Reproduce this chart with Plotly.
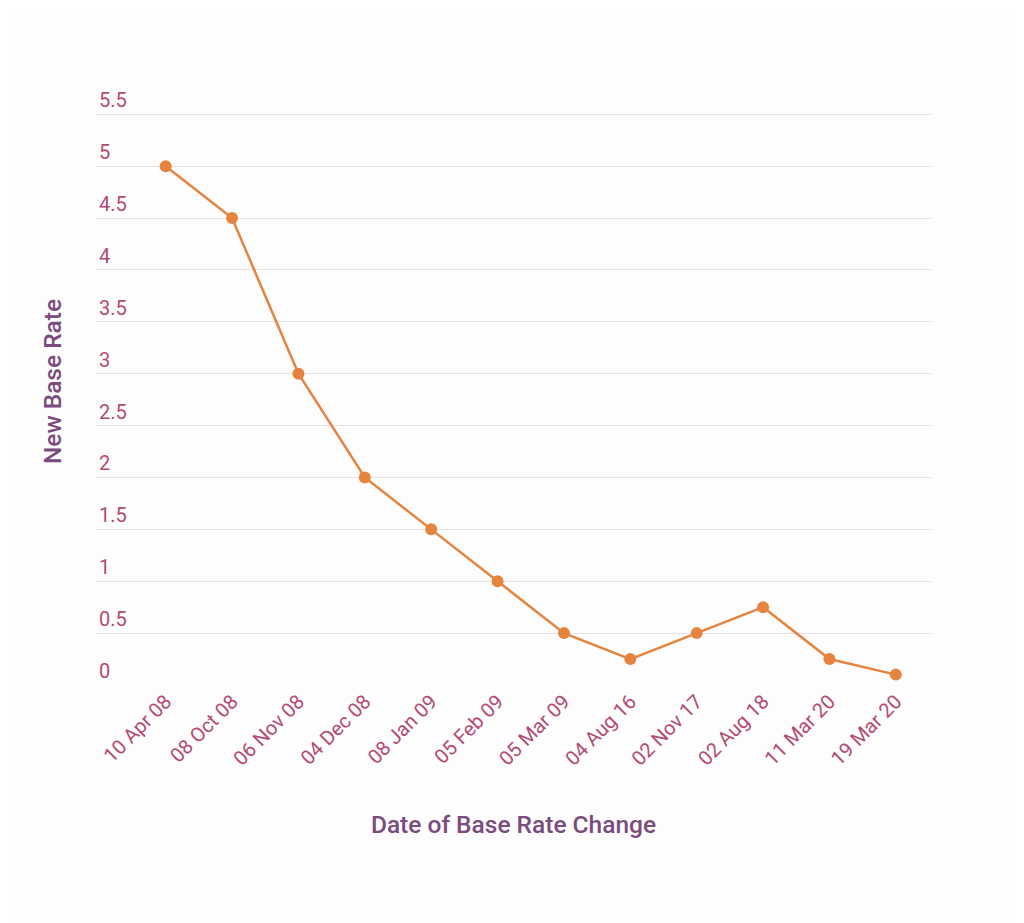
import plotly.graph_objects as go

dates = ["10 Apr 08", "08 Oct 08", "06 Nov 08", "04 Dec 08", "08 Jan 09", "05 Feb 09",
         "05 Mar 09", "04 Aug 16", "02 Nov 17", "02 Aug 18", "11 Mar 20", "19 Mar 20"]
base_rate = [5, 4.5, 3, 2, 1.5, 1, 0.5, 0.25, 0.5, 0.75, 0.25, 0.1]
y_ticks = [0, 0.5, 1, 1.5, 2, 2.5, 3, 3.5, 4, 4.5, 5, 5.5]
y_tick_text = ["0", "0.5", "1", "1.5", "2", "2.5", "3", "3.5", "4", "4.5", "5", "5.5"]

tick_col = "#b24a74"
title_col = "#7b4b7d"
line_col = "#e5843f"

fig = go.Figure()
fig.add_trace(go.Scatter(
    x=dates, y=base_rate, mode="lines+markers",
    line=dict(color=line_col, width=2.5),
    marker=dict(color=line_col, size=12),
    hoverinfo="x+y", showlegend=False,
))

fig.update_layout(
    width=1024, height=923,
    paper_bgcolor="#fdfdfd", plot_bgcolor="#fdfdfd",
    margin=dict(l=88, r=101, t=70, b=246),
    font=dict(family="Roboto", size=20, color=tick_col),
    xaxis=dict(
        type="category", range=[-1.05, 11.53],
        tickangle=-45, showgrid=False, zeroline=False, showline=False,
        ticks="", tickfont=dict(size=20, color=tick_col),
        title=dict(text="Date of Base Rate Change", standoff=46,
                   font=dict(size=24.5, color=title_col, weight=500)),
    ),
    yaxis=dict(
        range=[0, 5.85], tickvals=y_ticks, ticktext=y_tick_text,
        ticklabelposition="inside top",
        showgrid=True, gridcolor="#e8e0e5", gridwidth=1,
        zeroline=False, showline=False, ticks="",
        tickfont=dict(size=20, color=tick_col),
        title=dict(text="New Base Rate", standoff=30,
                   font=dict(size=24.5, color=title_col, weight=500)),
    ),
)

fig.write_html("out.html")
